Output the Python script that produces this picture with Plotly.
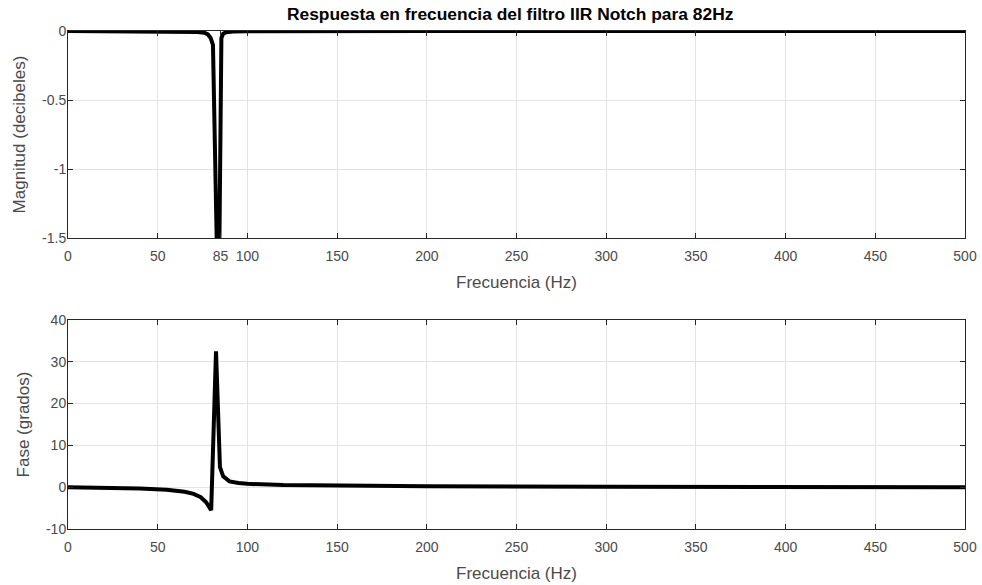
import plotly.graph_objects as go
from plotly.subplots import make_subplots

# Magnitude response (dB)
mag_freq = [0, 50, 65, 72, 76, 78, 79.5, 80.8, 83.9, 85.5, 86.5, 88, 92, 100, 200, 500]
mag_db = [0, -0.002, -0.004, -0.008, -0.012, -0.025, -0.05, -0.1, -2.2, -0.05, -0.02, -0.01, -0.004, -0.001, 0, 0]

# Phase response (degrees)
ph_freq = [0, 20, 40, 55, 65, 70, 74, 77, 79.8, 82.5, 84.7, 86.5, 90, 95, 100, 120, 150, 200, 300, 400, 500]
ph_deg = [0, -0.1, -0.3, -0.6, -1.1, -1.6, -2.4, -3.6, -5.5, 32.5, 4.8, 2.6, 1.4, 1.0, 0.8, 0.5, 0.35, 0.2, 0.1, 0.05, 0]

top_xticks = [0, 50, 85, 100, 150, 200, 250, 300, 350, 400, 450, 500]
bot_xticks = [0, 50, 100, 150, 200, 250, 300, 350, 400, 450, 500]
top_yticks = [-1.5, -1, -0.5, 0]
top_ylabels = ["-1.5", "-1", "-0.5", "0"]
bot_yticks = [-10, 0, 10, 20, 30, 40]

title_text = "Respuesta en frecuencia del filtro IIR Notch para 82Hz"

fig = make_subplots(rows=2, cols=1, vertical_spacing=0.1)
fig.add_trace(go.Scatter(x=mag_freq, y=mag_db, mode="lines",
                         line=dict(color="black", width=4), cliponaxis=False,
                         showlegend=False), row=1, col=1)
fig.add_trace(go.Scatter(x=ph_freq, y=ph_deg, mode="lines",
                         line=dict(color="black", width=4),
                         showlegend=False), row=2, col=1)

fam = "Liberation Sans, Arial, sans-serif"
axcol = "#262626"
tickfont = dict(family=fam, size=14, color="#4a4a4a")
titlefont = dict(family=fam, size=17, color="#4a4a4a")
common_x = dict(range=[0, 500], showline=True, linecolor=axcol, linewidth=1, mirror="ticks",
                ticks="inside", ticklen=5, tickcolor=axcol, showgrid=True, gridcolor="#e3e3e3",
                zeroline=False, tickfont=tickfont, tickmode="array", ticklabelstandoff=5)
common_y = dict(showline=True, linecolor=axcol, linewidth=1, mirror="ticks",
                ticks="inside", ticklen=5, tickcolor=axcol, showgrid=True, gridcolor="#e3e3e3",
                zeroline=False, tickfont=tickfont, tickmode="array", ticklabelstandoff=-2)

fig.update_xaxes(**common_x, tickvals=top_xticks, ticktext=[str(v) for v in top_xticks],
                 title=dict(text="Frecuencia (Hz)", font=titlefont, standoff=13),
                 domain=[0, 1], row=1, col=1)
fig.update_xaxes(**common_x, tickvals=bot_xticks, ticktext=[str(v) for v in bot_xticks],
                 title=dict(text="Frecuencia (Hz)", font=titlefont, standoff=13),
                 domain=[0, 1], row=2, col=1)
fig.update_yaxes(**common_y, range=[-1.5, 0], tickvals=top_yticks, ticktext=top_ylabels,
                 title=dict(text="Magnitud (decibeles)", font=titlefont, standoff=12),
                 domain=[0.5843, 1], row=1, col=1)
fig.update_yaxes(**common_y, range=[-10, 40], tickvals=bot_yticks,
                 ticktext=[str(v) for v in bot_yticks],
                 title=dict(text="Fase (grados)", font=titlefont, standoff=12),
                 domain=[0, 0.4197], row=2, col=1)

fig.update_layout(
    width=982, height=585,
    margin=dict(l=68, r=17, t=31, b=56, autoexpand=False),
    paper_bgcolor="white", plot_bgcolor="white",
    title=dict(text="<b>" + title_text + "</b>", x=0.5195, xanchor="center", y=0.976, yanchor="middle",
               font=dict(family=fam, size=17.4, color="black")),
)

fig.write_html("out.html")
